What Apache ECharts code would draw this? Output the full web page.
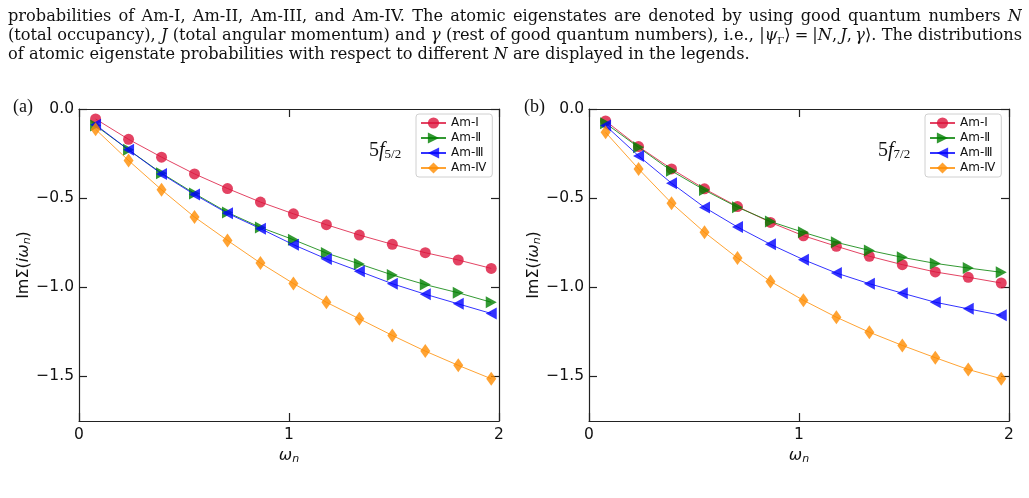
<!DOCTYPE html>
<html>
<head>
<meta charset="utf-8">
<script src="https://cdn.jsdelivr.net/npm/echarts@6/dist/echarts.min.js"></script>
<style>
body { margin: 0; background: #fff; }
#wrap { position: relative; width: 1029px; height: 498px; overflow: hidden; background: #fff; }
#chart { position: absolute; left: 0; top: 0; width: 1029px; height: 498px; }
.cap {
  position: absolute; left: 8px; width: 1014px; height: 20px; overflow: hidden;
  font-family: "DejaVu Serif", serif; font-size: 16.2px; line-height: 20px; color: #111;
}
.just { text-align: justify; text-align-last: justify; }
</style>
</head>
<body>
<div id="wrap">
  <div id="chart"></div>
  <div class="cap just" style="top:6px">probabilities of Am-I, Am-II, Am-III, and Am-IV. The atomic eigenstates are denoted by using good quantum numbers <i>N</i></div>
  <div class="cap just" style="top:25px">(total occupancy), <i>J</i> (total angular momentum) and <i>γ</i> (rest of good quantum numbers), i.e., |<i>ψ</i><sub style="font-size:10px;line-height:0">Γ</sub>⟩&#8197;=&#8197;|<i>N</i>,&#8201;<i>J</i>,&#8201;<i>γ</i>⟩. The distributions</div>
  <div class="cap" style="top:44px">of atomic eigenstate probabilities with respect to different <i>N</i> are displayed in the legends.</div>
</div>
<script>
// Matsubara frequencies (x values)
const omega = [0.079, 0.236, 0.393, 0.550, 0.707, 0.864, 1.021, 1.178, 1.335, 1.492, 1.649, 1.806, 1.963];

// panel (a) 5f5/2
const amIA = [-0.056, -0.170, -0.270, -0.364, -0.446, -0.522, -0.588, -0.649, -0.707, -0.759, -0.806, -0.847, -0.894];
const amIIA = [-0.093, -0.229, -0.360, -0.474, -0.580, -0.664, -0.733, -0.808, -0.869, -0.931, -0.985, -1.031, -1.084];
const amIIIA = [-0.088, -0.229, -0.364, -0.480, -0.585, -0.671, -0.761, -0.841, -0.910, -0.980, -1.039, -1.093, -1.147];
const amIVA = [-0.114, -0.289, -0.453, -0.606, -0.737, -0.864, -0.979, -1.084, -1.177, -1.270, -1.358, -1.438, -1.513];

// panel (b) 5f7/2
const amIB = [-0.067, -0.211, -0.336, -0.448, -0.547, -0.636, -0.711, -0.770, -0.826, -0.873, -0.914, -0.944, -0.976];
const amIIB = [-0.080, -0.215, -0.347, -0.455, -0.551, -0.631, -0.692, -0.748, -0.793, -0.832, -0.866, -0.892, -0.916];
const amIIIB = [-0.093, -0.263, -0.416, -0.552, -0.662, -0.759, -0.845, -0.920, -0.980, -1.033, -1.084, -1.121, -1.157];
const amIVB = [-0.131, -0.336, -0.528, -0.692, -0.836, -0.967, -1.073, -1.168, -1.252, -1.326, -1.395, -1.461, -1.513];

const seriesNames = ['Am-I', 'Am-Ⅱ', 'Am-Ⅲ', 'Am-Ⅳ'];
const xTicks = [0, 1, 2];
const yTicks = [-1.5, -1.0, -0.5, 0.0];

const colors = ['rgba(220,20,60,0.8)', 'rgba(0,128,0,0.8)', 'rgba(0,0,255,0.8)', 'rgba(255,140,0,0.8)'];
const symbols = ['circle', 'path://M0,0L10,5L0,10Z', 'path://M10,0L0,5L10,10Z', 'diamond'];
const symbolSizes = [11, [11, 12], [11, 12], [10, 14]];

const sans = 'DejaVu Sans';
const axisColor = '#222';
const grids = [
  { left: 79, top: 109, width: 420, height: 312 },
  { left: 589, top: 109, width: 420, height: 312 },
];

const nameRich = {
  r: { fontFamily: sans, fontSize: 16, color: '#111' },
  i: { fontFamily: sans, fontSize: 16, fontStyle: 'italic', color: '#111' },
  s: { fontFamily: sans, fontSize: 11, fontStyle: 'italic', color: '#111', padding: [7, 0, 0, 0] },
};

const makeAxes = (gi) => {
  const line = { show: true, onZero: false, lineStyle: { color: axisColor, width: 1.2 } };
  const tick = { show: true, inside: true, length: 8, lineStyle: { color: axisColor, width: 1.2 } };
  return {
    x: [
      {
        type: 'value', gridIndex: gi, min: 0, max: 2, position: 'bottom',
        axisLine: line, axisTick: { ...tick, customValues: xTicks }, splitLine: { show: false },
        axisLabel: { customValues: xTicks, margin: 6, fontFamily: sans, fontSize: 15.5, color: '#111' },
        name: '{i|ω}{s|n}', nameLocation: 'middle', nameGap: 23,
        nameTextStyle: { rich: nameRich },
      },
      {
        type: 'value', gridIndex: gi, min: 0, max: 2, position: 'top',
        axisLine: line, axisTick: { ...tick, customValues: xTicks }, splitLine: { show: false },
        axisLabel: { show: false },
      },
    ],
    y: [
      {
        type: 'value', gridIndex: gi, min: -1.75, max: 0, position: 'left',
        axisLine: line, axisTick: { ...tick, customValues: yTicks }, splitLine: { show: false },
        axisLabel: {
          customValues: yTicks, margin: 5, fontFamily: sans, fontSize: 15.5, color: '#111',
          formatter: (v) => v.toFixed(1).replace('-', '−'),
        },
        name: '{r|ImΣ(}{i|iω}{s|n}{r|)}', nameLocation: 'middle', nameGap: 46, nameRotate: 90,
        nameTextStyle: { rich: nameRich },
      },
      {
        type: 'value', gridIndex: gi, min: -1.75, max: 0, position: 'right',
        axisLine: line, axisTick: { ...tick, customValues: yTicks }, splitLine: { show: false },
        axisLabel: { show: false },
      },
    ],
  };
};

const axesA = makeAxes(0);
const axesB = makeAxes(1);

const makeSeries = (panelData, gi) => panelData.map((vals, k) => ({
  name: seriesNames[k],
  type: 'line',
  xAxisIndex: gi * 2,
  yAxisIndex: gi * 2,
  data: omega.map((w, i) => [w, vals[i]]),
  symbol: symbols[k],
  symbolSize: symbolSizes[k],
  showAllSymbol: true,
  itemStyle: { color: colors[k], borderWidth: 0 },
  lineStyle: { color: colors[k], width: 1 },
  emphasis: { disabled: true },
  z: 2 + k,
}));

const makeLegend = (left) => ({
  orient: 'vertical',
  left,
  top: 114,
  data: seriesNames,
  itemWidth: 25,
  itemHeight: 14,
  itemGap: 3,
  padding: [3, 6, 3, 4],
  borderColor: '#d0d0d0',
  borderWidth: 1,
  borderRadius: 3,
  backgroundColor: 'rgba(255,255,255,0.8)',
  textStyle: { fontFamily: sans, fontSize: 12, color: '#111', lineHeight: 12 },
  selectedMode: false,
});

const labelRich = {
  n: { fontFamily: 'Liberation Serif', fontSize: 20, fill: '#111' },
  f: { fontFamily: 'Liberation Serif', fontSize: 20, fontStyle: 'italic', fill: '#111' },
  s: { fontFamily: 'Liberation Serif', fontSize: 13, fill: '#111', padding: [8, 0, 0, 0] },
};

const chartOptions = {
  backgroundColor: '#fff',
  animation: false,
  grid: grids,
  xAxis: [...axesA.x, ...axesB.x],
  yAxis: [...axesA.y, ...axesB.y],
  legend: [makeLegend(416), makeLegend(925)],
  graphic: [
    { type: 'text', left: 13, top: 98, style: { text: '(a)', font: '18px "Liberation Serif"', fill: '#111' } },
    { type: 'text', left: 524, top: 98, style: { text: '(b)', font: '18px "Liberation Serif"', fill: '#111' } },
    { type: 'text', left: 369, top: 141, style: { text: '{n|5}{f|f}{s|5/2}', rich: labelRich } },
    { type: 'text', left: 878, top: 141, style: { text: '{n|5}{f|f}{s|7/2}', rich: labelRich } },
  ],
  series: [
    ...makeSeries([amIA, amIIA, amIIIA, amIVA], 0),
    ...makeSeries([amIB, amIIB, amIIIB, amIVB], 1),
  ],
};

const initChart = () => {
  const myChart = echarts.init(document.getElementById('chart'), null, { renderer: 'canvas' });
  myChart.setOption(chartOptions);
};

initChart();
</script>
</body>
</html>
